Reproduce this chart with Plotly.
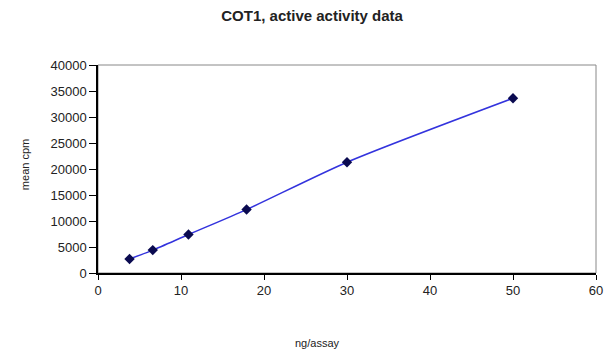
import plotly.graph_objects as go

ng_per_assay = [3.8, 6.6, 10.9, 17.9, 30.0, 50.0]
mean_cpm = [2700, 4400, 7400, 12200, 21300, 33600]
x_ticks = [0, 10, 20, 30, 40, 50, 60]
y_ticks = [0, 5000, 10000, 15000, 20000, 25000, 30000, 35000, 40000]
y_tick_labels = [str(v) for v in y_ticks]

FONT = "Liberation Sans, Arial, sans-serif"

fig = go.Figure()
fig.add_trace(go.Scatter(
    x=ng_per_assay, y=mean_cpm, mode="lines+markers",
    line=dict(color="#3333dd", width=1.5, shape="spline", smoothing=0.7),
    marker=dict(symbol="diamond", size=8, color="#0a0a50"),
    showlegend=False,
))

fig.update_layout(
    width=607, height=356,
    margin=dict(l=90, r=19, t=57, b=91, autoexpand=False),
    paper_bgcolor="white", plot_bgcolor="white",
    font=dict(family=FONT, size=12, color="#222"),
    title=dict(text="<b>COT1, active activity data</b>", x=0.501, xanchor="center",
               y=0.978, yanchor="middle", font=dict(family=FONT, size=15, color="#222")),
    shapes=[dict(type="rect", xref="paper", yref="paper", x0=0, x1=1, y0=0, y1=1,
                 line=dict(color="#888", width=1), layer="below")],
    annotations=[
        dict(text="ng/assay", xref="paper", yref="paper", x=0.44, y=-0.338,
             xanchor="center", yanchor="middle", showarrow=False, font=dict(size=11)),
        dict(text="mean cpm", xref="paper", yref="paper", x=-0.146, y=0.52,
             xanchor="center", yanchor="middle", showarrow=False, textangle=-90,
             font=dict(size=11)),
    ],
)
fig.update_xaxes(
    range=[0, 60], tickvals=x_ticks, showgrid=False, zeroline=False, automargin=False,
    showline=True, linecolor="black", linewidth=1.5,
    ticks="outside", ticklen=5, tickcolor="black", tickfont=dict(size=13),
)
fig.update_yaxes(
    range=[0, 40000], tickvals=y_ticks, ticktext=y_tick_labels, showgrid=False,
    zeroline=False, automargin=False,
    showline=True, linecolor="black", linewidth=1.5,
    ticks="outside", ticklen=7, tickcolor="black", tickfont=dict(size=13),
)

fig.write_html("out.html")
